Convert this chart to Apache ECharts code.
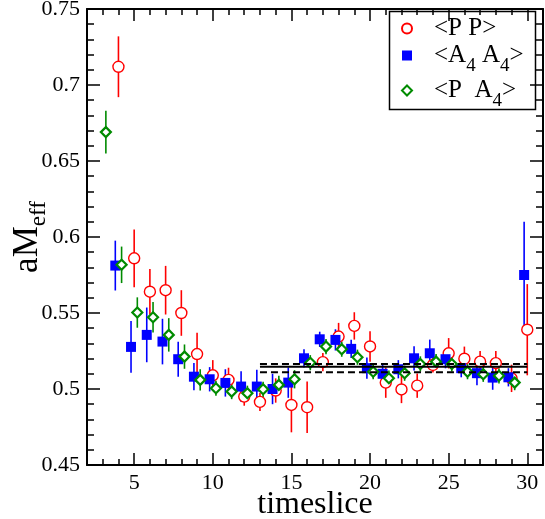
<!DOCTYPE html>
<html>
<head>
<meta charset="utf-8">
<script src="https://cdn.jsdelivr.net/npm/echarts@6/dist/echarts.min.js"></script>
<style>
  html, body { margin: 0; padding: 0; background: #fff; }
  #chart { width: 545px; height: 519px; }
</style>
</head>
<body>
<div id="chart"></div>
<script>
// timeslices and the three effective-mass estimates (value, error)
const ppTimes = [4, 5, 6, 7, 8, 9, 10, 11, 12, 13, 14, 15, 16, 17, 18, 19, 20, 21, 22, 23, 24, 25, 26, 27, 28, 29, 30]
const ppValues = [0.712, 0.586, 0.564, 0.565, 0.550, 0.523, 0.509, 0.506, 0.495, 0.4915, 0.499, 0.4895, 0.488, 0.5177, 0.5345, 0.5415, 0.528, 0.5042, 0.4997, 0.5022, 0.5158, 0.5235, 0.5199, 0.518, 0.517, 0.507, 0.539]
const ppErrors = [0.020, 0.019, 0.015, 0.016, 0.015, 0.014, 0.010, 0.008, 0.006, 0.006, 0.008, 0.018, 0.017, 0.006, 0.009, 0.009, 0.010, 0.010, 0.009, 0.008, 0.005, 0.010, 0.008, 0.007, 0.008, 0.009, 0.030]

const a4Times = [4, 5, 6, 7, 8, 9, 10, 11, 12, 13, 14, 15, 16, 17, 18, 19, 20, 21, 22, 23, 24, 25, 26, 27, 28, 29, 30]
const a4Values = [0.5812, 0.5277, 0.5356, 0.5312, 0.5196, 0.5081, 0.5064, 0.504, 0.5016, 0.5016, 0.500, 0.5042, 0.5202, 0.5327, 0.5323, 0.5264, 0.5137, 0.510, 0.513, 0.5202, 0.5235, 0.5196, 0.5137, 0.5104, 0.5075, 0.5077, 0.575]
const a4Errors = [0.0164, 0.017, 0.018, 0.015, 0.0115, 0.009, 0.008, 0.009, 0.010, 0.011, 0.010, 0.010, 0.006, 0.005, 0.007, 0.006, 0.007, 0.007, 0.006, 0.008, 0.009, 0.006, 0.006, 0.008, 0.008, 0.006, 0.035]

const pa4Times = [3, 4, 5, 6, 7, 8, 9, 10, 11, 12, 13, 14, 15, 16, 17, 18, 19, 20, 21, 22, 23, 24, 25, 26, 27, 28, 29]
const pa4Values = [0.669, 0.5817, 0.5503, 0.5472, 0.5356, 0.5213, 0.506, 0.5005, 0.4983, 0.4972, 0.4998, 0.5027, 0.5064, 0.5173, 0.5279, 0.5262, 0.5209, 0.5114, 0.5071, 0.5104, 0.5165, 0.518, 0.5165, 0.5114, 0.5097, 0.5087, 0.5042]
const pa4Errors = [0.014, 0.012, 0.010, 0.010, 0.011, 0.008, 0.007, 0.005, 0.005, 0.005, 0.005, 0.006, 0.006, 0.005, 0.005, 0.005, 0.005, 0.005, 0.005, 0.005, 0.005, 0.005, 0.005, 0.005, 0.005, 0.005, 0.005]

// horizontal shift so the sets don't sit on top of each other
const a4Shift = -0.2
const pa4Shift = 0.2

// fit result and its band
const fitRange = [13, 30]
const fitValue = 0.5147
const fitUpper = 0.5164
const fitLower = 0.5110

const xMajorTicks = [5, 10, 15, 20, 25, 30]

const FONT = '"Liberation Serif", "DejaVu Serif", serif'

function points(times, values, errors, shift) {
  return times.map((t, i) => [t + shift, values[i], errors[i]])
}

function errorBars(name, data, color) {
  return {
    name: name + ' err',
    type: 'custom',
    data: data,
    encode: { x: 0, y: 1 },
    z: 2,
    renderItem(params, api) {
      const x = api.value(0)
      const y = api.value(1)
      const e = api.value(2)
      const top = api.coord([x, y + e])
      const bot = api.coord([x, y - e])
      return {
        type: 'line',
        shape: { x1: top[0], y1: top[1], x2: bot[0], y2: bot[1] },
        style: { stroke: color, lineWidth: 1.6 }
      }
    }
  }
}

function fitLine(v, dashed) {
  return {
    type: 'line',
    data: [[fitRange[0], v], [fitRange[1], v]],
    symbol: 'none',
    z: 5,
    silent: true,
    lineStyle: { color: '#000', width: 2, type: dashed ? [7, 4] : 'solid' }
  }
}

const ppData = points(ppTimes, ppValues, ppErrors, 0)
const a4Data = points(a4Times, a4Values, a4Errors, a4Shift)
const pa4Data = points(pa4Times, pa4Values, pa4Errors, pa4Shift)

const RED = '#ff0000'
const BLUE = '#0000ff'
const GREEN = '#008b00'

const axisLine = { show: true, lineStyle: { color: '#000', width: 2 } }

const chart = echarts.init(document.getElementById('chart'), null, { renderer: 'canvas' })

chart.setOption({
  animation: false,
  backgroundColor: '#fff',
  grid: { left: 87, right: 2, top: 9, bottom: 54, containLabel: false, outerBoundsMode: 'none' },
  xAxis: [
    {
      type: 'value', position: 'bottom', min: 2, max: 31,
      axisLine: axisLine,
      axisTick: { inside: true, length: 12, customValues: xMajorTicks, lineStyle: { color: '#000', width: 1.5 } },
      axisLabel: { customValues: xMajorTicks, color: '#000', fontSize: 22, fontFamily: FONT, margin: 7 },
      splitLine: { show: false },
      name: 'timeslice', nameLocation: 'middle', nameGap: 24, nameMoveOverlap: false,
      nameTextStyle: { color: '#000', fontSize: 32, fontFamily: FONT }
    },
    {
      type: 'value', position: 'bottom', min: 2, max: 31, interval: 1,
      axisLine: { show: false },
      axisTick: { inside: true, length: 6, lineStyle: { color: '#000', width: 1.5 } },
      axisLabel: { show: false },
      splitLine: { show: false }
    },
    {
      type: 'value', position: 'top', min: 2, max: 31,
      axisLine: axisLine,
      axisTick: { inside: true, length: 12, customValues: xMajorTicks, lineStyle: { color: '#000', width: 1.5 } },
      axisLabel: { show: false },
      splitLine: { show: false }
    },
    {
      type: 'value', position: 'top', min: 2, max: 31, interval: 1,
      axisLine: { show: false },
      axisTick: { inside: true, length: 6, lineStyle: { color: '#000', width: 1.5 } },
      axisLabel: { show: false },
      splitLine: { show: false }
    }
  ],
  yAxis: [
    {
      type: 'value', position: 'left', min: 0.45, max: 0.75, interval: 0.05,
      axisLine: axisLine,
      axisTick: { inside: true, length: 13, lineStyle: { color: '#000', width: 1.5 } },
      minorTick: { show: true, splitNumber: 5, length: 7, lineStyle: { color: '#000', width: 1.5 } },
      axisLabel: { color: '#000', fontSize: 22, fontFamily: FONT, margin: 7 },
      splitLine: { show: false },
      name: '{n|aM}{s|eff}', nameLocation: 'middle', nameGap: 43, nameRotate: 90, nameMoveOverlap: false,
      nameTextStyle: {
        color: '#000', fontFamily: FONT,
        rich: {
          n: { fontSize: 35, fontFamily: FONT, color: '#000', lineHeight: 34, verticalAlign: 'top' },
          s: { fontSize: 23, fontFamily: FONT, color: '#000', lineHeight: 22, padding: [17, 0, 0, 0], verticalAlign: 'top' }
        }
      }
    },
    {
      type: 'value', position: 'right', min: 0.45, max: 0.75, interval: 0.05,
      axisLine: axisLine,
      axisTick: { inside: true, length: 13, lineStyle: { color: '#000', width: 1.5 } },
      minorTick: { show: true, splitNumber: 5, length: 7, lineStyle: { color: '#000', width: 1.5 } },
      axisLabel: { show: false },
      splitLine: { show: false }
    }
  ],
  legend: {
    data: ['<P P>', '<A4 A4>', '<P  A4>'],
    orient: 'vertical',
    left: 387, top: 9,
    padding: [7, 6, 6, 14],
    itemWidth: 10, itemHeight: 10, itemGap: 2,
    selectedMode: false,
    formatter(name) {
      if (name === '<P P>') return '{a|<P P>}'
      if (name === '<A4 A4>') return '{a|<A}{s|4}{n| A}{s|4}{n|>}'
      return '{a|<P  A}{s|4}{n|>}'
    },
    textStyle: {
      color: '#000', fontFamily: FONT,
      rich: {
        a: { fontSize: 25, fontFamily: FONT, color: '#000', lineHeight: 25, verticalAlign: 'top', padding: [0, 0, 0, 17] },
        n: { fontSize: 25, fontFamily: FONT, color: '#000', lineHeight: 25, verticalAlign: 'top' },
        s: { fontSize: 19, fontFamily: FONT, color: '#000', lineHeight: 18, padding: [14, 0, 0, 0], verticalAlign: 'top' }
      }
    }
  },
  graphic: [
    {
      type: 'rect', left: 387, top: 9, z: 100, silent: true,
      shape: { width: 146, height: 98 },
      style: { fill: 'none', stroke: '#000', lineWidth: 1.5 }
    }
  ],
  series: [
    errorBars('<P P>', ppData, RED),
    {
      name: '<P P>', type: 'scatter', data: ppData, z: 3,
      symbol: 'circle', symbolSize: 11,
      itemStyle: { color: '#fff', borderColor: RED, borderWidth: 1.4, opacity: 1 }
    },
    errorBars('<A4 A4>', a4Data, BLUE),
    {
      name: '<A4 A4>', type: 'scatter', data: a4Data, z: 3,
      symbol: 'rect', symbolSize: 10,
      itemStyle: { color: BLUE, opacity: 1 }
    },
    errorBars('<P  A4>', pa4Data, GREEN),
    {
      name: '<P  A4>', type: 'scatter', data: pa4Data, z: 3,
      symbol: 'diamond', symbolSize: 10,
      itemStyle: { color: '#fff', borderColor: GREEN, borderWidth: 2.2, opacity: 1 }
    },
    fitLine(fitUpper, true),
    fitLine(fitValue, false),
    fitLine(fitLower, true)
  ]
})
</script>
</body>
</html>
